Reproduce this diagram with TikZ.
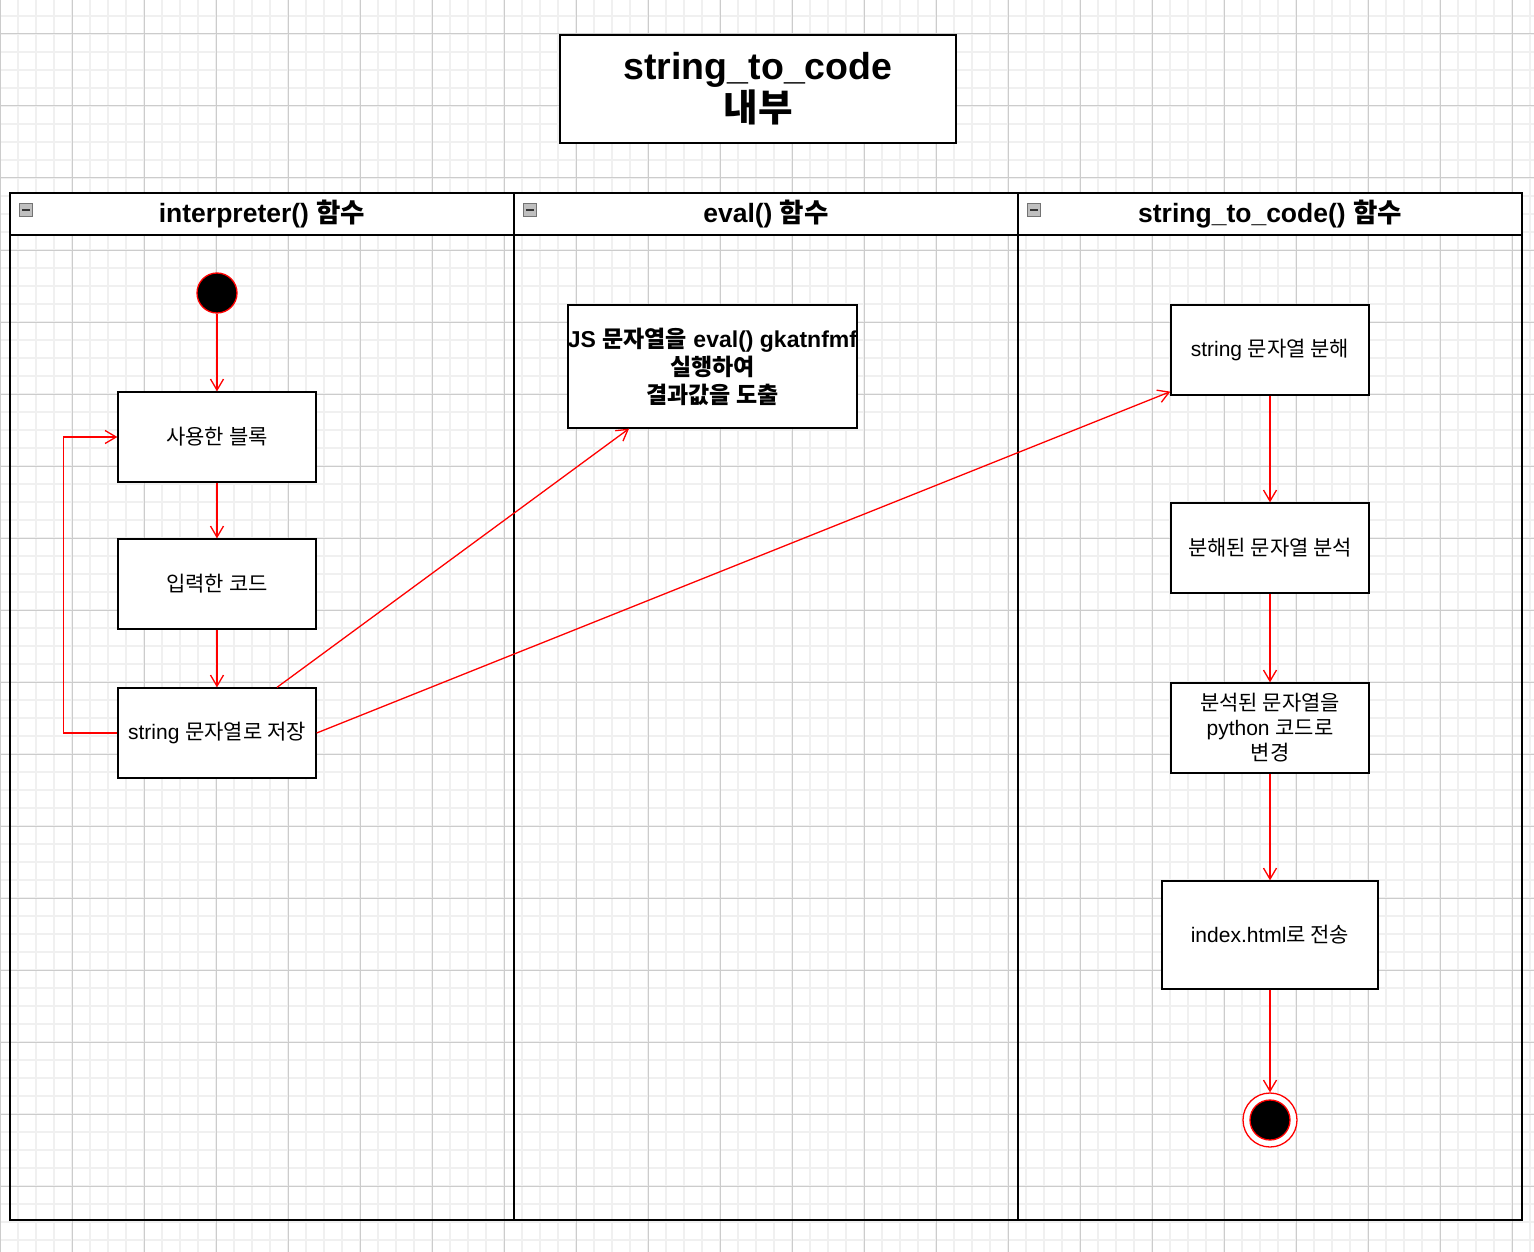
\documentclass[tikz,border=0pt]{standalone}
\usepackage{fontspec}
\setmainfont{Liberation Sans}
\newfontfamily\kr{Noto Sans CJK KR}
\usetikzlibrary{arrows.meta}
\tikzset{
  gridminor/.style={color=black!6, line width=1.6pt},
  gridmajor/.style={color=black!20, line width=1pt},
  actbox/.style={draw, line width=1.3pt, fill=white, minimum width=198pt, minimum height=90pt,
    font=\fontsize{21}{25}\selectfont, align=center, inner sep=0pt},
  flow/.style={draw=red, line width=1.3pt, -{Straight Barb[length=11pt,width=13pt]}},
  lanelabel/.style={font=\bfseries\fontsize{26.5}{30}\selectfont, inner sep=0pt},
  laneline/.style={line width=1.5pt},
  iconbox/.style={draw=black!55, fill=black!25, line width=0.8pt, minimum size=13pt, inner sep=0pt},
}
\begin{document}
\begin{tikzpicture}[x=1pt,y=-1pt]
\useasboundingbox (0,0) rectangle (1534,1252);
\fill[white] (0,0) rectangle (1534,1252);
% grid
\foreach \gx in {0,18,...,1534} \draw[gridminor] (\gx,0) -- (\gx,1252);
\foreach \gy in {-2,16,...,1252} \draw[gridminor] (0,\gy) -- (1534,\gy);
\foreach \gx in {0,72,...,1534} \draw[gridmajor] (\gx,0) -- (\gx,1252);
\foreach \gy in {34,106,...,1252} \draw[gridmajor] (0,\gy) -- (1534,\gy);

% title
\node[draw, line width=1.3pt, fill=white, minimum width=396pt, minimum height=108pt, inner sep=0pt,
  align=center, font=\bfseries\fontsize{37.5}{42}\selectfont] (title) at (758,89)
  {string\_to\_code\\{\kr 내부}};

% pool
\fill[white] (10,193) rectangle (1522,235);
\draw[laneline] (10,193) rectangle (1522,1220);
\draw[laneline] (10,235) -- (1522,235);
\draw[laneline] (514,193) -- (514,1220);
\draw[laneline] (1018,193) -- (1018,1220);
\foreach \ix/\nm in {26/i1,530/i2,1034/i3} {
  \node[iconbox] (\nm) at (\ix,210) {};
  \draw[line width=1.4pt, black!80] ([xshift=-4pt]\nm.center) -- ([xshift=4pt]\nm.center);
}
\node[lanelabel] (l1) at (262,214) {interpreter() {\kr 함수}};
\node[lanelabel] (l2) at (766,214) {eval() {\kr 함수}};
\node[lanelabel] (l3) at (1270,214) {string\_to\_code() {\kr 함수}};

% lane 1
\node[circle, fill=black, draw=red, line width=1.3pt, minimum size=40pt, inner sep=0pt] (start) at (217,293) {};
\node[actbox] (b1) at (217,437) {{\kr 사용한 블록}};
\node[actbox] (b2) at (217,584) {{\kr 입력한 코드}};
\node[actbox] (b3) at (217,733) {string {\kr 문자열로 저장}};

% lane 2
\node[actbox, minimum width=287pt, minimum height=123pt, font=\bfseries\fontsize{23}{28}\selectfont] (ev) at (712.5,366.5)
  {JS {\kr 문자열을} eval() gkatnfmf\\{\kr 실행하여}\\{\kr 결과값을 도출}};

% lane 3
\node[actbox] (s1) at (1270,350) {string {\kr 문자열 분해}};
\node[actbox] (s2) at (1270,548) {{\kr 분해된 문자열 분석}};
\node[actbox] (s3) at (1270,728) {{\kr 분석된 문자열을}\\python {\kr 코드로}\\{\kr 변경}};
\node[actbox, minimum width=216pt, minimum height=108pt] (s4) at (1270,935) {index.html{\kr 로 전송}};
\node[circle, fill=white, draw=red, line width=1.3pt, minimum size=54pt, inner sep=0pt] (endo) at (1270,1120) {};
\node[circle, fill=black, draw=red, line width=1.3pt, minimum size=40pt, inner sep=0pt] (endi) at (1270,1120) {};

% connectors
\draw[flow] (start) -- (b1.north);
\draw[flow] (b1) -- (b2);
\draw[flow] (b2) -- (b3);
\draw[flow] (b3.west) -- ++(-54,0) |- (b1.west);
\draw[flow] ([xshift=60pt]b3.north) -- ([xshift=-83.5pt]ev.south);
\draw[flow] (b3.east) -- ([yshift=4pt]s1.south west);
\draw[flow] (s1) -- (s2);
\draw[flow] (s2) -- (s3);
\draw[flow] (s3) -- (s4);
\draw[flow] (s4) -- (endo.north);
\end{tikzpicture}
\end{document}
